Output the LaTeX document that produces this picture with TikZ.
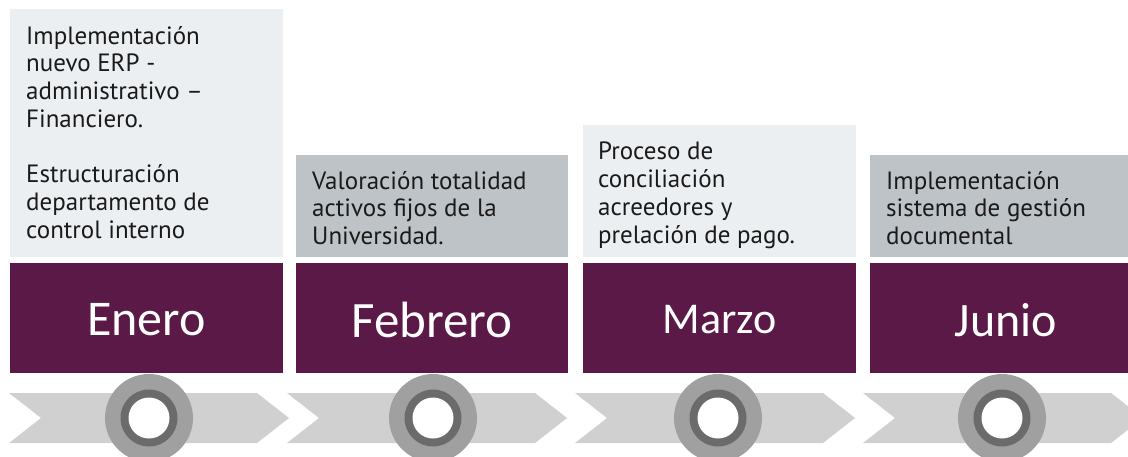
\documentclass[tikz,border=0pt]{standalone}
\usepackage{fontspec}
\setmainfont{PT Sans}
\newfontfamily\monthfont{Carlito}
\definecolor{lightbox}{HTML}{ECEFF1}
\definecolor{darkbox}{HTML}{BEC3C7}
\definecolor{plum}{HTML}{5A1946}
\definecolor{chev}{HTML}{D0D0D0}
\definecolor{ringout}{HTML}{A0A0A0}
\definecolor{ringin}{HTML}{6B6B6B}
\definecolor{txt}{HTML}{1A1A1A}
\tikzset{
  boxtext/.style={anchor=base west, inner sep=0pt, align=left, text=txt,
    font=\fontsize{25}{27.7}\selectfont},
  monthtext/.style={anchor=center, inner sep=0pt, text=white},
}
\begin{document}
\begin{tikzpicture}[x=1pt,y=-1pt]
\useasboundingbox (0,0) rectangle (1128,456);
\clip (0,0) rectangle (1128,456);
% text boxes
\fill[lightbox] (10,9) rectangle (283,257);
\fill[darkbox] (296,155) rectangle (568,257);
\fill[lightbox] (583,125) rectangle (856,257);
\fill[darkbox] (870,155) rectangle (1143,257);
% month bars
\fill[plum] (10,263) rectangle (283,373);
\fill[plum] (296,263) rectangle (568,373);
\fill[plum] (583,263) rectangle (856,373);
\fill[plum] (870,263) rectangle (1143,373);
% chevrons
\foreach \s in {9,287,575,863}{
  \fill[chev] (\s,393) -- ({\s+248},393) -- ({\s+280},418) -- ({\s+248},443)
    -- (\s,443) -- ({\s+32},418) -- cycle;
}
% rings
\foreach \c in {149,433,718,1002}{
  \fill[ringout] (\c,418) circle[radius=44];
  \fill[ringin] (\c,418) circle[radius=28.5];
  \fill[white] (\c,418) circle[radius=20.5];
}
% texts (anchor = baseline of the last line)
\node[boxtext] (t1) at (26,238) {Implementación\\nuevo ERP -\\administrativo –\\Financiero.\\[27.7pt]Estructuración\\departamento de\\control interno};
\node[boxtext] (t2) at (312,244.4) {Valoración totalidad\\activos fijos de la\\Universidad.};
\node[boxtext] (t3) at (598,243) {Proceso de\\conciliación\\acreedores y\\prelación de pago.};
\node[boxtext] (t4) at (886,244.4) {Implementación\\sistema de gestión\\documental};
\node[monthtext, font=\monthfont\fontsize{50}{50}\selectfont] (m1) at (146.5,320) {Enero};
\node[monthtext, font=\monthfont\fontsize{51}{51}\selectfont] (m2) at (432,320) {Febrero};
\node[monthtext, font=\monthfont\fontsize{44}{44}\selectfont] (m3) at (719.5,320) {Marzo};
\node[monthtext, font=\monthfont\fontsize{48}{48}\selectfont] (m4) at (1006,320) {Junio};
\end{tikzpicture}
\end{document}
